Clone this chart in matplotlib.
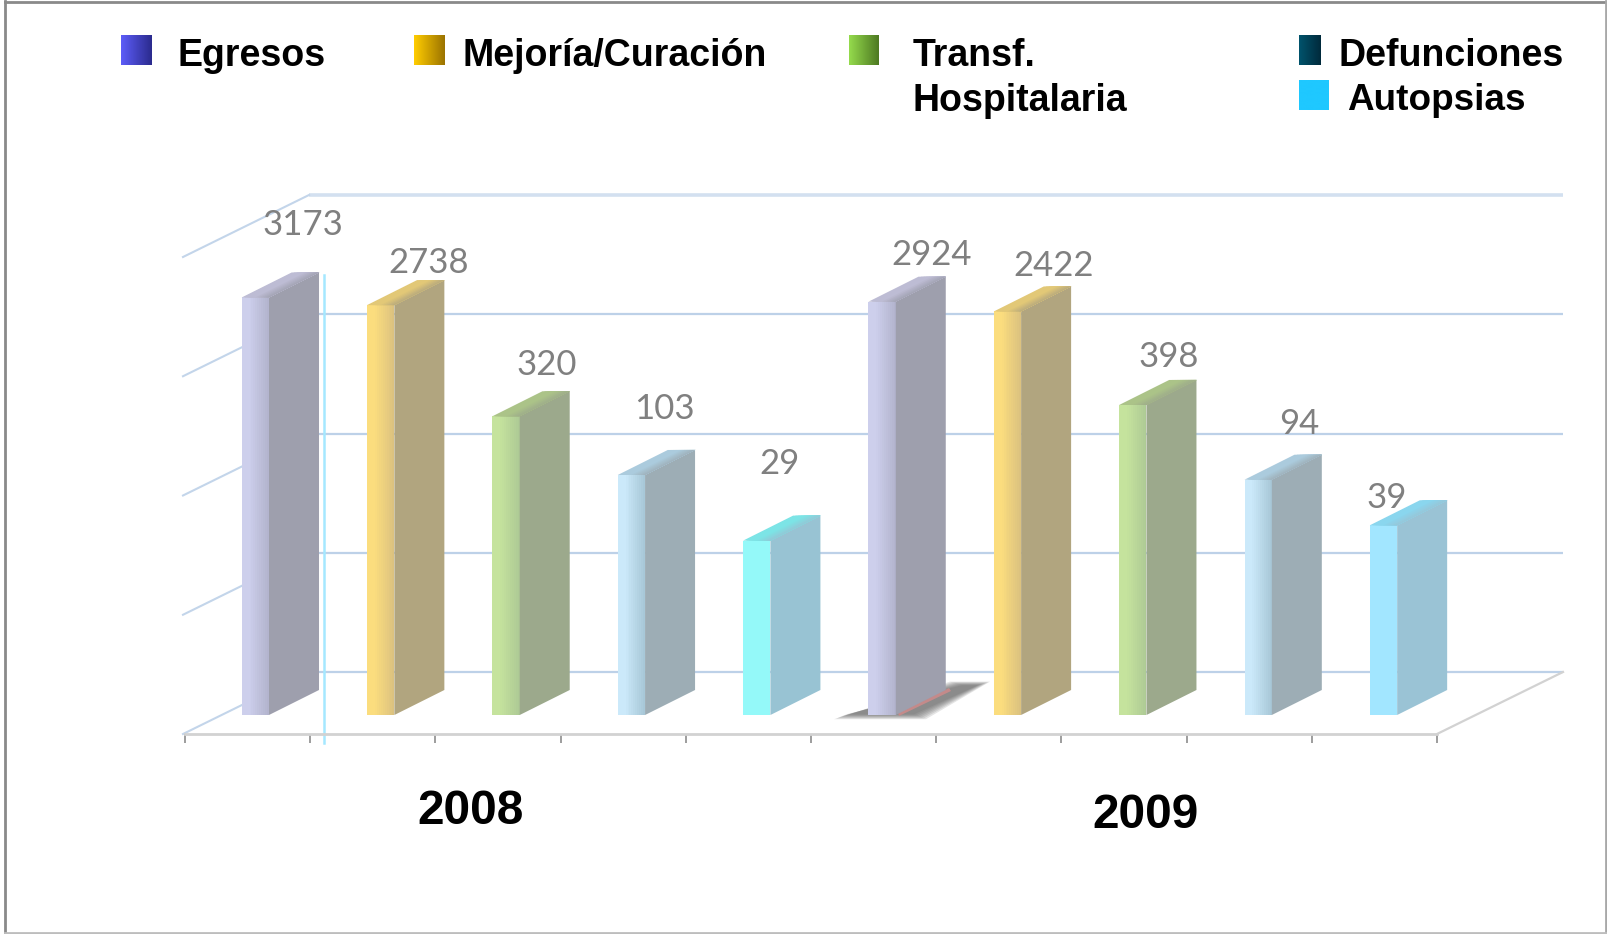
#!/usr/bin/env python3
import numpy as np
import matplotlib
matplotlib.use("Agg")
import matplotlib.pyplot as plt
from matplotlib.patches import Polygon
from matplotlib.lines import Line2D
from matplotlib.transforms import IdentityTransform, offset_copy

# Data (the bars sit on a log axis, 4 decades)
years = ["2008", "2009"]
categories = ["Egresos", "Mejoría/Curación", "Transf.\nHospitalaria", "Defunciones", "Autopsias"]
values_2008 = [3173, 2738, 320, 103, 29]
values_2009 = [2924, 2422, 398, 94, 39]

# Figure size in pixels
W, H = 1608, 934
DEPTH_X, DEPTH_Y = 50, 25   # bar depth
WALL_X, WALL_Y = 124, 43    # bar plane -> back wall
FLOOR_Y = 19                # bar plane -> front of floor
BAR_W = 0.218

# front face: left colour, right colour; then side and top colours
bar_styles_2008 = [
    ("#CDCFEC", "#B3B4CE", "#9E9FAD", "#BDBCD4"),
    ("#FBDD7E", "#DCC27F", "#B1A57F", "#E2C877"),
    ("#C5E39D", "#AECA95", "#9CA98C", "#ABC388"),
    ("#CBE9FA", "#A8C8D8", "#9DADB5", "#ABCBDD"),
    ("#94F9F9", "#94F9F9", "#98C3D3", "#7CE4E6"),
]
bar_styles_2009 = bar_styles_2008[:4] + [("#A2E6FF", "#A2E6FF", "#9AC3D5", "#8AD6EE")]
all_values = values_2008 + values_2009
all_styles = bar_styles_2008 + bar_styles_2009


def hex2rgb(c):
    return np.array(matplotlib.colors.to_rgb(c))


def px(x, y):
    # reference pixels (y down) to display coords
    return (x, H - y)


def add_px_poly(ax, pts, **kw):
    ax.add_patch(Polygon([px(*p) for p in pts], transform=IdentityTransform(), clip_on=False, lw=0, **kw))


def main():
    plt.rcParams['font.family'] = ['Liberation Sans', 'DejaVu Sans']
    fig = plt.figure(figsize=(W / 100, H / 100), dpi=100, facecolor="white")

    # Border of the slide picture, the bottom edge is lighter
    for xs, ys, col in [([5, 5], [1, H - 1], "#8A8A8A"), ([5, W - 2], [1.5, 1.5], "#8A8A8A"),
                        ([W - 2, W - 2], [1, H - 1], "#A8A8A8"), ([5, W - 2], [H - 1, H - 1], "#BDBDBD")]:
        fig.add_artist(Line2D(np.array(xs) / W, 1 - np.array(ys) / H, transform=fig.transFigure, color=col, lw=2))

    # Main axes: x 0..10 on the floor, log y on the bar plane
    x0, x1 = 185, 1437
    y_base, y_top = 715, 238
    ax = fig.add_axes([x0 / W, (H - y_base) / H, (x1 - x0) / W, (y_base - y_top) / H])
    ax.patch.set_alpha(0)
    ax.set_xlim(0, 10)
    ax.set_yscale("log")
    ax.set_ylim(1, 10000)
    ax.set_xticks(range(11))
    ax.set_xticklabels([])
    ax.set_yticks([])
    ax.minorticks_off()
    ax.tick_params(axis='x', length=6.5, width=1.2, color="#8C8C8C", direction='out')
    for side in ['top', 'left', 'right']:
        ax.spines[side].set_visible(False)
    ax.spines['bottom'].set_position(('outward', FLOOR_Y * 0.72))
    ax.spines['bottom'].set_color("#D2D2D2")
    ax.spines['bottom'].set_linewidth(2)

    # Back wall grid
    back = offset_copy(ax.transData, fig, x=WALL_X, y=WALL_Y, units='dots')
    decades = [1, 10, 100, 1000, 10000]
    for d in decades:
        top = d == 10000
        ax.plot([0, 10.016], [d, d], transform=back, color="#D3E0F0" if top else "#BDD1E8",
                lw=2.6 if top else 1.6, clip_on=False, zorder=1, solid_capstyle='butt')
        # left wall diagonals
        xa, ya = ax.transData.transform((0, d))
        ax.plot([xa - 2, xa + WALL_X], [ya - FLOOR_Y, ya + WALL_Y], transform=IdentityTransform(),
                color="#C3D5EA", lw=1.5, clip_on=False, zorder=1)

    # Right edge of the floor
    xa, ya = ax.transData.transform((10, 1))
    ax.plot([xa, xa + WALL_X + 2], [ya - FLOOR_Y, ya + WALL_Y], transform=IdentityTransform(),
            color="#D2D2D2", lw=1.6, clip_on=False, zorder=1)

    # Stray cyan line next to the first bar
    ax.plot([324, 324], [H - 275, H - 743], transform=IdentityTransform(), color="#A5E8FF", lw=1.8,
            clip_on=False, zorder=1.5)

    # Shadow below the first 2009 bar, faked blur with stacked layers
    for grow in range(8, -6, -2):
        add_px_poly(ax, [(842 - grow, 716 + grow * 0.4), (918 + grow, 716 + grow * 0.4),
                         (982 + grow, 684 - grow * 0.3), (958 - grow, 684 - grow * 0.3)],
                    fc="#5E5E5E", alpha=0.16, zorder=2)
    add_px_poly(ax, [(898, 713), (949, 688), (951, 691), (899, 716)], fc="#C48A8A", zorder=2.6)

    # Bars
    steps = 14
    for i, (v, st) in enumerate(zip(all_values, all_styles)):
        left = i * 1.0012 + 0.453
        c0, c1, side_c, top_c = st
        # front face with a soft ramp toward its right edge
        for k in range(steps):
            t = max(0, (k / (steps - 1) - 0.25) / 0.75)
            col = hex2rgb(c0) * (1 - t) + hex2rgb(c1) * t
            ax.bar(left + k * BAR_W / steps, v - 1, BAR_W / steps * 1.02, bottom=1, align='edge',
                   color=col, lw=0, antialiased=False, zorder=3)
        xl, yb = ax.transData.transform((left, 1))
        xr, yt = ax.transData.transform((left + BAR_W, v))
        side = [(xr, yb), (xr + DEPTH_X, yb + DEPTH_Y), (xr + DEPTH_X, yt + DEPTH_Y), (xr, yt)]
        ax.add_patch(Polygon(side, transform=IdentityTransform(), fc=side_c, lw=0, clip_on=False, zorder=3))
        # roof fades into the side colour at the far right, each strip runs to the
        # right end so no seams show between them
        w = xr - xl
        n = 10
        for k in range(n):
            a = k / n
            t = max(0, (k / (n - 1) - 0.45) / 0.55) * 0.75
            col = hex2rgb(top_c) * (1 - t) + hex2rgb(side_c) * t
            roof = [(xl + a * w, yt), (xl + a * w + DEPTH_X, yt + DEPTH_Y),
                    (xr + DEPTH_X, yt + DEPTH_Y), (xr, yt)]
            ax.add_patch(Polygon(roof, transform=IdentityTransform(), fc=col, lw=0, clip_on=False, zorder=3))

    # Overlay in reference pixels for legend and texts
    ov = fig.add_axes([0, 0, 1, 1])
    ov.patch.set_alpha(0)
    ov.set_xlim(0, W)
    ov.set_ylim(H, 0)
    ov.axis('off')

    swatches = [
        (121, 152, 35, 65, "#5C5CF8", "#2B2B8E"),
        (414, 445, 35, 65, "#FFCC00", "#9C7400"),
        (849, 879, 35, 65, "#94DA4C", "#4E7A22"),
        (1299, 1321, 35, 65, "#00536C", "#002A3C"),
        (1299, 1329, 80, 110, "#1FC8FF", "#1FC8FF"),
    ]
    for xa, xb, ya, yb, ca, cb in swatches:
        ramp = np.linspace(hex2rgb(ca), hex2rgb(cb), 32)[None, :, :]
        ov.imshow(ramp, extent=(xa, xb, yb, ya), aspect='auto', interpolation='bilinear')
    ov.set_xlim(0, W)
    ov.set_ylim(H, 0)

    font_leg = dict(fontsize=27, fontweight='bold', color="black", va='center', ha='left')
    ov.text(178, 56, categories[0], **font_leg)
    ov.text(463, 56, categories[1], **font_leg)
    t3a, t3b = categories[2].split("\n")
    ov.text(913, 56, t3a, **font_leg)
    ov.text(913, 101, t3b, **font_leg)
    ov.text(1339, 56, categories[3], **font_leg)
    ov.text(1347, 101, categories[4], fontsize=26.6, fontweight='bold', color="black", va='center', ha='left')

    font_year = dict(fontsize=34.5, fontweight='bold', color="black", va='center', ha='center')
    ov.text(471, 812, years[0], **font_year)
    ov.text(1146, 815, years[1], **font_year)

    # Value labels
    label_xy = [(302.5, 225), (428.5, 263), (546.5, 365), (664.5, 409), (779.5, 464.5),
                (932, 255), (1054, 265.5), (1169, 357), (1299, 424.5), (1386.5, 498)]
    for (lx, ly), v in zip(label_xy, all_values):
        ov.text(lx, ly, str(v), fontsize=25, color="#808080", ha='center', va='center', family=['Lato', 'DejaVu Sans'])

    fig.savefig("out.png", dpi=100)
    plt.close(fig)


if __name__ == '__main__':
    main()
